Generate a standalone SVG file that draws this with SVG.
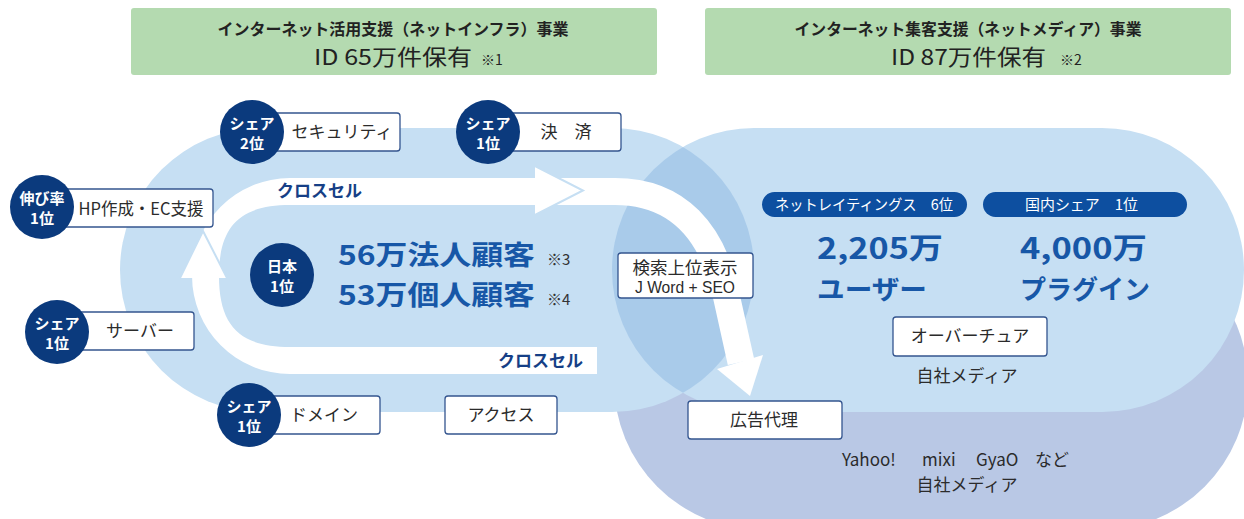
<svg xmlns="http://www.w3.org/2000/svg" width="1244" height="519" viewBox="0 0 1244 519">
<defs>
<style>
text{font-family:"Noto Sans CJK JP","Noto Sans",sans-serif}
.box{fill:#fff;stroke:#34558f;stroke-width:1.3}
.lbl{font-size:17px;fill:#2b2b2b;text-anchor:middle}
.plain{font-size:17px;fill:#2b2b2b}
.badge{fill:#0b3a7d}
.bt{font-size:15px;font-weight:bold;fill:#fff;text-anchor:middle}
.big{font-weight:bold;fill:#1757a7}
.note{font-size:15px;fill:#333}
.pill{fill:#0d4fa0}
.pt{font-size:15px;fill:#fff}
.ttl{fill:#222;text-anchor:middle}
.cs{font-size:17px;font-weight:bold;fill:#163f86}
.hd{fill:#b4dab0}
</style>
<clipPath id="rp"><rect x="612" y="128" width="632" height="284" rx="142"/></clipPath>
</defs>
<rect width="1244" height="519" fill="#fff"/>
<g id="background">
<rect x="614" y="234" width="634" height="296" rx="148" fill="#b9c8e5"/>
<rect x="612" y="128" width="632" height="284" rx="142" fill="#c6dff3"/>
<rect x="120" y="128" width="634" height="284" rx="142" fill="#c6dff3"/>
<rect x="120" y="128" width="634" height="284" rx="142" fill="#a9cbea" clip-path="url(#rp)"/>
</g>
<g id="header-infra">
<rect class="hd" x="131" y="8" width="526" height="67" rx="3"/>
<text class="ttl" x="393" y="35" font-size="16" font-weight="bold" textLength="351" lengthAdjust="spacingAndGlyphs">インターネット活用支援（ネットインフラ）事業</text>
<text x="314" y="65" font-size="22" fill="#222" textLength="158" lengthAdjust="spacingAndGlyphs">ID 65万件保有</text>
<text x="481" y="65" font-size="14" fill="#222">※1</text>
</g>
<g id="header-media">
<rect class="hd" x="705" y="8" width="526" height="67" rx="3"/>
<text class="ttl" x="968" y="35" font-size="16" font-weight="bold" textLength="347" lengthAdjust="spacingAndGlyphs">インターネット集客支援（ネットメディア）事業</text>
<text x="891" y="65" font-size="22" fill="#222" textLength="155" lengthAdjust="spacingAndGlyphs">ID 87万件保有</text>
<text x="1060" y="65" font-size="14" fill="#222">※2</text>
</g>
<g id="connectors">
<path fill="#fff" d="M540,178 H290 A98,98 0 0 0 290,374 H597 V347 H290 C240,347 219,326 219,276 C219,226 240,205 290,205 H540 Z"/>
<path fill="none" stroke="#fff" stroke-width="27" d="M555,191.5 H615 C680,191.5 712,235 725,290 L741,362"/>
<polygon points="535,166 583,190.5 535,215" fill="#fff"/>
<path d="M535,166 L583,190.5 L535,215" fill="none" stroke="#c6dff3" stroke-width="2"/>
<polygon points="180,278 203,231 227,278" fill="#fff"/>
<path d="M180,278 L203,231 L227,278" fill="none" stroke="#c6dff3" stroke-width="2"/>
<polygon points="717,369 750,396 763,355" fill="#fff"/>
<text class="cs" x="277" y="197">クロスセル</text>
<text class="cs" x="583" y="367" text-anchor="end">クロスセル</text>
</g>
<g id="n-security">
<rect class="box" x="240" y="113" width="160" height="38" rx="3"/>
<text class="lbl" x="342" y="138">セキュリティ</text>
<circle class="badge" cx="252" cy="132" r="32"/>
<text class="bt" x="252" y="129">シェア</text>
<text class="bt" x="252" y="149">2位</text>
</g>
<g id="n-payment">
<rect class="box" x="480" y="113" width="141" height="38" rx="3"/>
<text class="lbl" x="566" y="138">決　済</text>
<circle class="badge" cx="488" cy="132" r="32"/>
<text class="bt" x="488" y="129">シェア</text>
<text class="bt" x="488" y="149">1位</text>
</g>
<g id="n-hp">
<rect class="box" x="40" y="189" width="173" height="38" rx="3"/>
<text class="lbl" x="141" y="215" textLength="125" lengthAdjust="spacingAndGlyphs">HP作成・EC支援</text>
<circle class="badge" cx="42" cy="207" r="32"/>
<text class="bt" x="42" y="204">伸び率</text>
<text class="bt" x="42" y="224">1位</text>
</g>
<g id="n-server">
<rect class="box" x="60" y="312" width="134" height="38" rx="3"/>
<text class="lbl" x="140" y="337">サーバー</text>
<circle class="badge" cx="57" cy="332" r="32"/>
<text class="bt" x="57" y="329">シェア</text>
<text class="bt" x="57" y="349">1位</text>
</g>
<g id="n-domain">
<rect class="box" x="250" y="396" width="130" height="38" rx="3"/>
<text class="lbl" x="324" y="421">ドメイン</text>
<circle class="badge" cx="249" cy="415" r="32"/>
<text class="bt" x="249" y="412">シェア</text>
<text class="bt" x="249" y="432">1位</text>
</g>
<g id="n-access">
<rect class="box" x="445" y="396" width="112" height="38" rx="3"/>
<text class="lbl" x="501" y="421">アクセス</text>
</g>
<g id="n-customers">
<circle class="badge" cx="282" cy="275" r="32"/>
<text class="bt" x="282" y="272">日本</text>
<text class="bt" x="282" y="292">1位</text>
<text class="big" x="338" y="265" font-size="27" textLength="197" lengthAdjust="spacingAndGlyphs">56万法人顧客</text>
<text class="note" x="547" y="265">※3</text>
<text class="big" x="338" y="305" font-size="27" textLength="197" lengthAdjust="spacingAndGlyphs">53万個人顧客</text>
<text class="note" x="547" y="305">※4</text>
</g>
<g id="n-search">
<rect class="box" x="618" y="253" width="135" height="45" rx="3"/>
<text class="lbl" x="685" y="274" font-size="16" textLength="105" lengthAdjust="spacingAndGlyphs">検索上位表示</text>
<text class="lbl" x="685" y="293" font-size="14" font-family="Liberation Sans, Arial, sans-serif" textLength="100" lengthAdjust="spacingAndGlyphs" style="font-family:'Liberation Sans',Arial,sans-serif">J Word + SEO</text>
</g>
<g id="n-ad">
<rect class="box" x="688" y="401" width="154" height="38" rx="3"/>
<text class="lbl" x="764" y="426">広告代理</text>
</g>
<g id="n-netrating">
<rect class="pill" x="762" y="192" width="205" height="25" rx="12.5"/>
<text class="pt" x="775" y="210" textLength="178" lengthAdjust="spacingAndGlyphs">ネットレイティングス　6位</text>
<text class="big" x="817" y="259" font-size="29" textLength="126" lengthAdjust="spacingAndGlyphs">2,205万</text>
<text class="big" x="817" y="298.5" font-size="26.5" textLength="110" lengthAdjust="spacingAndGlyphs">ユーザー</text>
</g>
<g id="n-share">
<rect class="pill" x="983" y="192" width="204" height="25" rx="12.5"/>
<text class="pt" x="1025" y="210" textLength="113" lengthAdjust="spacingAndGlyphs">国内シェア　1位</text>
<text class="big" x="1020" y="259" font-size="29" textLength="127" lengthAdjust="spacingAndGlyphs">4,000万</text>
<text class="big" x="1020" y="298.5" font-size="26.5" textLength="130" lengthAdjust="spacingAndGlyphs">プラグイン</text>
</g>
<g id="n-overture">
<rect class="box" x="893" y="317" width="154" height="39" rx="3"/>
<text class="lbl" x="970" y="342">オーバーチュア</text>
<text class="lbl" x="967" y="382">自社メディア</text>
</g>
<g id="n-portals">
<text class="plain" x="842" y="466">Yahoo!<tspan x="922">mixi</tspan><tspan x="976">GyaO</tspan><tspan x="1035">など</tspan></text>
<text class="lbl" x="967" y="491">自社メディア</text>
</g>
</svg>
